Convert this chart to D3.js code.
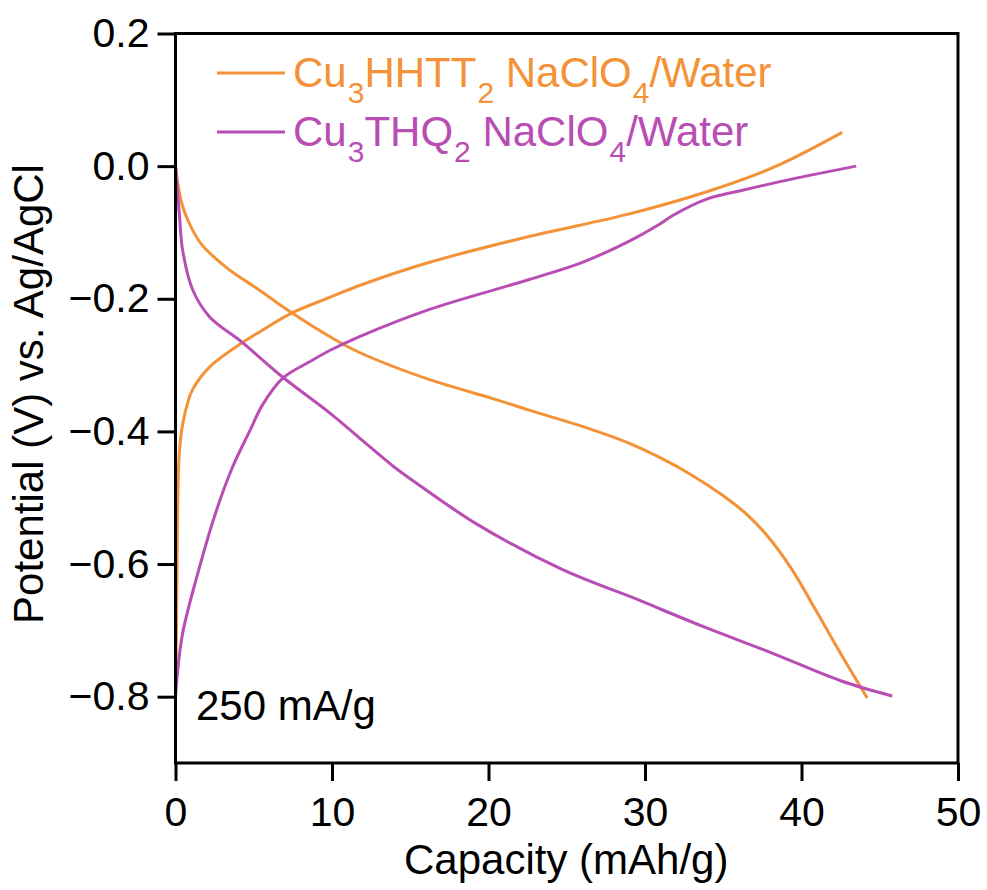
<!DOCTYPE html>
<html>
<head>
<meta charset="utf-8">
<script src="https://cdn.jsdelivr.net/npm/d3@7"></script>
<style>
  html, body { margin: 0; padding: 0; background: #fff; }
  svg { display: block; font-family: "Liberation Sans", Arial, sans-serif; }
</style>
</head>
<body>
<svg id="chart" width="987" height="890"></svg>
<script>
// Galvanostatic charge/discharge profiles at 250 mA/g, [capacity (mAh/g), potential (V)]
const hhttCharge = [
  [0.0, -0.80], [0.06, -0.70], [0.10, -0.60], [0.15, -0.50], [0.25, -0.43],
  [0.45, -0.39], [0.80, -0.355], [1.09, -0.337], [2.17, -0.303], [4.28, -0.266],
  [5.37, -0.250], [7.48, -0.221], [9.85, -0.198], [11.76, -0.180], [16.24, -0.145],
  [22.6, -0.106], [29.0, -0.072], [33.9, -0.039], [38.2, -0.002], [42.6, 0.051]
];
const hhttDischarge = [
  [0.0, 0.0], [0.16, -0.028], [0.4, -0.056], [0.8, -0.082], [1.6, -0.116],
  [3.26, -0.153], [5.37, -0.187], [7.48, -0.222], [9.85, -0.257], [11.76, -0.281],
  [16.24, -0.322], [20.5, -0.352], [22.6, -0.368], [25.8, -0.391], [29.0, -0.418],
  [31.0, -0.440], [33.0, -0.466], [35.0, -0.497], [36.5, -0.525], [37.8, -0.557],
  [39.3, -0.605], [41.0, -0.673], [42.5, -0.735], [44.2, -0.802]
];
const thqCharge = [
  [0.0, -0.80], [0.10, -0.77], [0.45, -0.705], [1.53, -0.605], [2.62, -0.519],
  [3.64, -0.454], [4.73, -0.400], [5.56, -0.360], [6.84, -0.320], [8.57, -0.295],
  [9.85, -0.278], [11.76, -0.257], [16.24, -0.216], [22.6, -0.171], [26.0, -0.145],
  [29.0, -0.113], [30.9, -0.088], [31.8, -0.074], [33.9, -0.050], [36.1, -0.037],
  [39.3, -0.020], [43.5, 0.0]
];
const thqDischarge = [
  [0.0, 0.0], [0.10, -0.03], [0.26, -0.076], [0.45, -0.126], [1.09, -0.186],
  [2.17, -0.227], [4.28, -0.266], [6.84, -0.318], [9.85, -0.372], [11.76, -0.410],
  [14.1, -0.456], [15.15, -0.474], [19.2, -0.539], [24.7, -0.608], [29.7, -0.655],
  [30.9, -0.667], [33.9, -0.696], [38.2, -0.735], [42.5, -0.776], [45.8, -0.799]
];

const xTicks = [0, 10, 20, 30, 40, 50];
const yTicks = [0.2, 0.0, -0.2, -0.4, -0.6, -0.8];
const xDomain = [0, 50];
const yDomain = [-0.9, 0.2];

const seriesColors = ["#F39237", "#B84DB3"];

const svg = d3.select("#chart");
const margin = { left: 175.5, right: 29, top: 33.5, bottom: 127 };
const W = 987, H = 890;

const x = d3.scaleLinear().domain(xDomain).range([margin.left, W - margin.right]);
const y = d3.scaleLinear().domain(yDomain).range([H - margin.bottom, margin.top]);

const line = d3.line()
  .x(d => x(d[0]))
  .y(d => y(d[1]))
  .curve(d3.curveCatmullRom.alpha(0.5));

// curves
const curves = [
  { data: hhttDischarge, color: seriesColors[0] },
  { data: hhttCharge, color: seriesColors[0] },
  { data: thqDischarge, color: seriesColors[1] },
  { data: thqCharge, color: seriesColors[1] }
];
svg.append("g").selectAll("path")
  .data(curves)
  .join("path")
  .attr("d", d => line(d.data))
  .attr("fill", "none")
  .attr("stroke", d => d.color)
  .attr("stroke-width", 3)
  .attr("stroke-linejoin", "round");

// axes
const fmtY = v => (v === 0 ? "0.0" : d3.format(".1f")(v).replace("-", "\u2212"));
const xAxis = d3.axisBottom(x).tickValues(xTicks).tickSize(18).tickPadding(16).tickFormat(d3.format("d"));
const yAxis = d3.axisLeft(y).tickValues(yTicks).tickSize(18).tickPadding(8).tickFormat(fmtY);

const gx = svg.append("g").attr("transform", `translate(0,${y(yDomain[0])})`).call(xAxis);
const gy = svg.append("g").attr("transform", `translate(${x(xDomain[0])},0)`).call(yAxis);
[gx, gy].forEach(g => {
  g.select(".domain").remove();
  g.selectAll(".tick line").attr("stroke", "#000").attr("stroke-width", 3);
  g.selectAll(".tick text").attr("fill", "#000").style("font-size", "41px")
    .style("font-family", "'Liberation Sans', Arial, sans-serif");
});

// frame
svg.append("rect")
  .attr("x", x(xDomain[0])).attr("y", y(yDomain[1]))
  .attr("width", x(xDomain[1]) - x(xDomain[0]))
  .attr("height", y(yDomain[0]) - y(yDomain[1]))
  .attr("fill", "none").attr("stroke", "#000").attr("stroke-width", 3);

// axis titles
svg.append("text")
  .attr("x", (x(xDomain[0]) + x(xDomain[1])) / 2 - 0.5)
  .attr("y", 874)
  .attr("text-anchor", "middle")
  .style("font-size", "42px")
  .text("Capacity (mAh/g)");

svg.append("text")
  .attr("transform", "translate(43,394) rotate(-90)")
  .attr("text-anchor", "middle")
  .style("font-size", "42px")
  .text("Potential (V) vs. Ag/AgCl");

// rate annotation
svg.append("text")
  .attr("x", 196).attr("y", 720)
  .style("font-size", "42px")
  .text("250 mA/g");

// legend
const legendParts = [
  [["Cu", 0], ["3", 1], ["HHTT", 0], ["2", 1], [" NaClO", 0], ["4", 1], ["/Water", 0]],
  [["Cu", 0], ["3", 1], ["THQ", 0], ["2", 1], [" NaClO", 0], ["4", 1], ["/Water", 0]]
];
const legendY = [73, 132];
legendParts.forEach((parts, i) => {
  const g = svg.append("g");
  g.append("line")
    .attr("x1", 217).attr("x2", 285)
    .attr("y1", legendY[i]).attr("y2", legendY[i])
    .attr("stroke", seriesColors[i]).attr("stroke-width", 3);
  const t = g.append("text")
    .attr("x", 293).attr("y", legendY[i] + 14)
    .attr("fill", seriesColors[i])
    .style("font-size", "42px");
  let sub = false;
  parts.forEach(([s, isSub]) => {
    const ts = t.append("tspan").text(s);
    if (isSub && !sub) { ts.attr("dy", 16).style("font-size", "30px").attr("dx", 1); sub = true; }
    else if (!isSub && sub) { ts.attr("dy", -16); sub = false; }
  });
});
</script>
</body>
</html>
